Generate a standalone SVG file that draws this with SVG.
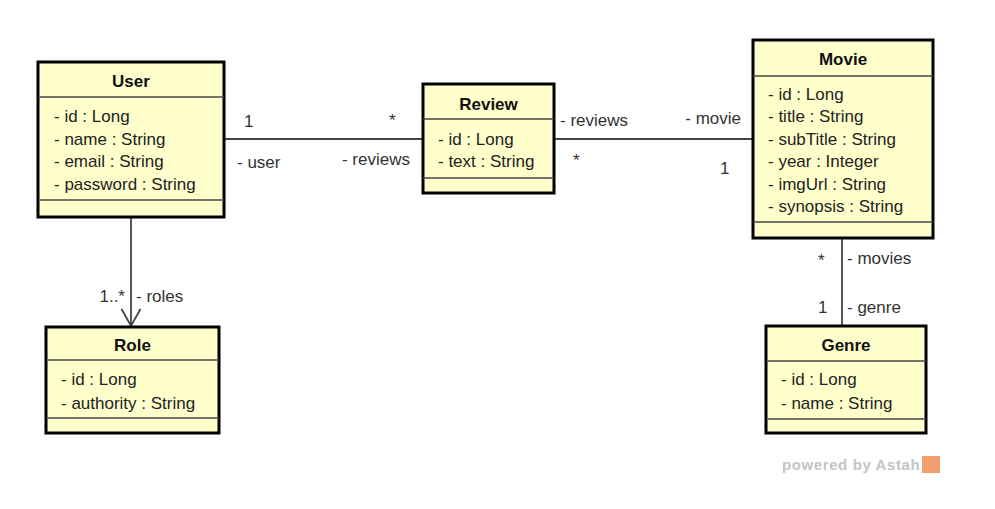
<svg xmlns="http://www.w3.org/2000/svg" width="995" height="509" viewBox="0 0 995 509">
<style>
.box{fill:#FFFFCC;stroke:#000;stroke-width:3}
.sep{stroke:#444;stroke-width:1.5}
.title{font-family:"Liberation Sans",Arial,sans-serif;font-weight:bold;font-size:17px;fill:#111;text-anchor:middle}
.attr{font-family:"Liberation Sans",Arial,sans-serif;font-size:17px;fill:#222}
.lbl{font-family:"Liberation Sans",Arial,sans-serif;font-size:17px;fill:#333}
.end{text-anchor:end}
.conn{stroke:#444;stroke-width:1.8;fill:none}
</style>
<rect width="995" height="509" fill="#fff"/>
<g id="connectors">
<line class="conn" x1="224" y1="139" x2="423" y2="139"/>
<line class="conn" x1="554" y1="139" x2="753" y2="139"/>
<line class="conn" x1="131" y1="217" x2="131" y2="326"/>
<polyline class="conn" points="121.5,309 131,326 140.5,309"/>
<line class="conn" x1="842" y1="238" x2="842" y2="326"/>
<text class="lbl" x="244" y="127">1</text>
<text class="lbl" x="237" y="168">- user</text>
<text class="lbl" x="389" y="126">*</text>
<text class="lbl end" x="410" y="165">- reviews</text>
<text class="lbl" x="560" y="126">- reviews</text>
<text class="lbl" x="573" y="166">*</text>
<text class="lbl end" x="741" y="124">- movie</text>
<text class="lbl" x="720" y="174">1</text>
<text class="lbl end" x="125" y="302">1..*</text>
<text class="lbl" x="136" y="302">- roles</text>
<text class="lbl" x="818" y="266">*</text>
<text class="lbl" x="847" y="264">- movies</text>
<text class="lbl" x="818" y="313">1</text>
<text class="lbl" x="847" y="313">- genre</text>
</g>
<g id="User">
<rect class="box" x="38" y="62" width="186" height="155"/>
<line class="sep" x1="38" y1="97" x2="224" y2="97"/>
<line class="sep" x1="38" y1="200" x2="224" y2="200"/>
<text class="title" x="131" y="87">User</text>
<text class="attr" x="54" y="122">- id : Long</text>
<text class="attr" x="54" y="145">- name : String</text>
<text class="attr" x="54" y="167">- email : String</text>
<text class="attr" x="54" y="190">- password : String</text>
</g>
<g id="Review">
<rect class="box" x="423" y="84" width="131" height="109"/>
<line class="sep" x1="423" y1="119" x2="554" y2="119"/>
<line class="sep" x1="423" y1="178" x2="554" y2="178"/>
<text class="title" x="488.5" y="110">Review</text>
<text class="attr" x="438" y="145">- id : Long</text>
<text class="attr" x="438" y="167">- text : String</text>
</g>
<g id="Movie">
<rect class="box" x="753" y="40" width="180" height="198"/>
<line class="sep" x1="753" y1="76" x2="933" y2="76"/>
<line class="sep" x1="753" y1="222" x2="933" y2="222"/>
<text class="title" x="843" y="65">Movie</text>
<text class="attr" x="768" y="100">- id : Long</text>
<text class="attr" x="768" y="122">- title : String</text>
<text class="attr" x="768" y="145">- subTitle : String</text>
<text class="attr" x="768" y="167">- year : Integer</text>
<text class="attr" x="768" y="190">- imgUrl : String</text>
<text class="attr" x="768" y="212">- synopsis : String</text>
</g>
<g id="Role">
<rect class="box" x="46" y="327" width="173" height="106"/>
<line class="sep" x1="46" y1="360" x2="219" y2="360"/>
<line class="sep" x1="46" y1="418" x2="219" y2="418"/>
<text class="title" x="132.5" y="351">Role</text>
<text class="attr" x="61" y="385">- id : Long</text>
<text class="attr" x="61" y="409">- authority : String</text>
</g>
<g id="Genre">
<rect class="box" x="766" y="326" width="160" height="107"/>
<line class="sep" x1="766" y1="361" x2="926" y2="361"/>
<line class="sep" x1="766" y1="419" x2="926" y2="419"/>
<text class="title" x="846" y="351">Genre</text>
<text class="attr" x="781" y="385">- id : Long</text>
<text class="attr" x="781" y="409">- name : String</text>
</g>
<g id="watermark">
<text x="782" y="470" style="font-family:'Liberation Sans',Arial,sans-serif;font-weight:bold;font-size:15px;letter-spacing:0.6px;fill:#c4c4c4">powered by Astah</text>
<rect x="922" y="456" width="18" height="17" fill="#F0A070"/>
</g>
</svg>
